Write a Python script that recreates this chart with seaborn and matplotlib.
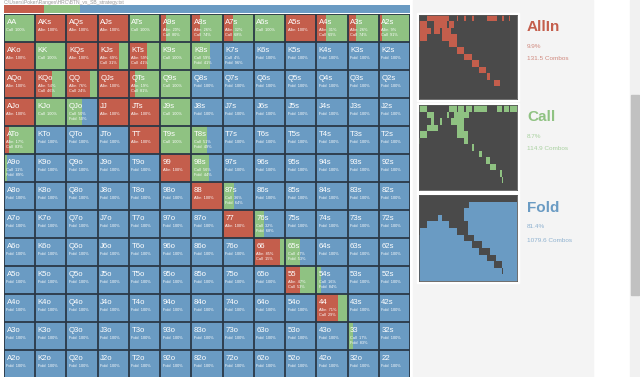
import matplotlib.pyplot as plt
import matplotlib.patches as mpatches
import numpy as np
import seaborn as sns

# hand grid: row i / column j, pairs on the diagonal, suited above, offsuit below
ranks = ["A", "K", "Q", "J", "T", "9", "8", "7", "6", "5", "4", "3", "2"]

allin_pct = [
    [0, 100, 100, 100, 0, 20, 26, 32, 0, 100, 31, 26, 9],
    [100, 0, 100, 69, 59, 0, 0, 0, 0, 0, 0, 0, 0],
    [100, 54, 76, 100, 19, 0, 0, 0, 0, 0, 0, 0, 0],
    [100, 0, 0, 100, 100, 0, 0, 0, 0, 0, 0, 0, 0],
    [17, 0, 0, 0, 100, 0, 0, 0, 0, 0, 0, 0, 0],
    [0, 0, 0, 0, 0, 100, 0, 0, 0, 0, 0, 0, 0],
    [0, 0, 0, 0, 0, 0, 100, 0, 0, 0, 0, 0, 0],
    [0, 0, 0, 0, 0, 0, 0, 100, 0, 0, 0, 0, 0],
    [0, 0, 0, 0, 0, 0, 0, 0, 85, 0, 0, 0, 0],
    [0, 0, 0, 0, 0, 0, 0, 0, 0, 47, 0, 0, 0],
    [0, 0, 0, 0, 0, 0, 0, 0, 0, 0, 71, 0, 0],
    [0, 0, 0, 0, 0, 0, 0, 0, 0, 0, 0, 0, 0],
    [0, 0, 0, 0, 0, 0, 0, 0, 0, 0, 0, 0, 0],
]

call_pct = [
    [100, 0, 0, 0, 100, 80, 74, 68, 100, 0, 69, 74, 91],
    [0, 100, 0, 31, 41, 100, 59, 4, 0, 0, 0, 0, 0],
    [0, 46, 24, 0, 81, 100, 0, 0, 0, 0, 0, 0, 0],
    [0, 100, 50, 0, 0, 100, 0, 0, 0, 0, 0, 0, 0],
    [83, 0, 0, 0, 0, 100, 51, 0, 0, 0, 0, 0, 0],
    [11, 0, 0, 0, 0, 0, 56, 0, 0, 0, 0, 0, 0],
    [0, 0, 0, 0, 0, 0, 0, 36, 0, 0, 0, 0, 0],
    [0, 0, 0, 0, 0, 0, 0, 0, 32, 0, 0, 0, 0],
    [0, 0, 0, 0, 0, 0, 0, 0, 15, 47, 0, 0, 0],
    [0, 0, 0, 0, 0, 0, 0, 0, 0, 53, 16, 0, 0],
    [0, 0, 0, 0, 0, 0, 0, 0, 0, 0, 29, 0, 0],
    [0, 0, 0, 0, 0, 0, 0, 0, 0, 0, 0, 17, 0],
    [0, 0, 0, 0, 0, 0, 0, 0, 0, 0, 0, 0, 0],
]

action_names = ["Allin", "Call", "Fold"]
panel_titles = ["AllIn", "Call", "Fold"]
summary_pct = [9.9, 8.7, 81.4]
summary_combos = [131.5, 114.9, 1079.6]

RED, GREEN, BLUE = "#c45e4c", "#8fc282", "#6a9bc3"
LIGHT = ["#d08a7f", "#a9d1a0", "#8fb2d0"]
GRID = "#2a3846"
DARK = "#4a4a4a"

sns.set_style("white")
plt.rcParams["font.family"] = ["Liberation Sans", "DejaVu Sans"]

W, H = 640, 377
fig = plt.figure(figsize=(W / 100, H / 100), dpi=100)


def px(x0, y0, x1, y1):
    return [x0 / W, 1 - y1 / H, (x1 - x0) / W, (y1 - y0) / H]


# page background pieces
fig.patches.append(mpatches.Rectangle((413 / W, 0), 180 / W, 1, transform=fig.transFigure,
                                      color="#f4f4f4", zorder=-5))
fig.patches.append(mpatches.Rectangle((630 / W, 0), 10 / W, 1, transform=fig.transFigure,
                                      color="#f1f1f1", zorder=-5))
fig.patches.append(mpatches.Rectangle((631 / W, 1 - 295 / H), 8 / W, 200 / H,
                                      transform=fig.transFigure, color="#c1c1c1", zorder=-4))
fig.text(4 / W, 1 - 2.3 / H, r"C:\Users\Poker\Ranges\HRC\BTN_vs_SB_strategy.txt",
         fontsize=3.6, color="#9a9a9a", va="center", ha="left")

fracs = [np.array(allin_pct) / 100, np.array(call_pct) / 100]
fracs.append(1 - fracs[0] - fracs[1])
colors = [RED, GREEN, BLUE]
rr, cc = np.indices((13, 13))


def draw_stack(ax, only=None):
    lefts = cc.astype(float).ravel()
    for k, (f, col) in enumerate(zip(fracs, colors)):
        if only is None or only == k:
            ax.barh(rr.ravel() + 0.5, f.ravel(), left=lefts, height=1.0,
                    color=col, linewidth=0)
        lefts = lefts + f.ravel()
    ax.set_xlim(0, 13)
    ax.set_ylim(13, 0)
    ax.set_xticks([])
    ax.set_yticks([])


# summary bar
axs = fig.add_axes(px(4, 5, 410, 13))
left = 0
for v, col in zip(summary_pct, colors):
    axs.barh(0, v, left=left, height=1, color=col, linewidth=0)
    left += v
axs.set_xlim(0, 100)
axs.set_ylim(-0.5, 0.5)
axs.axis("off")

# main grid
ax = fig.add_axes(px(4, 14, 410, 378))
draw_stack(ax)
ax.hlines(range(14), 0, 13, color=GRID, lw=1.3)
ax.vlines(range(14), 0, 13, color=GRID, lw=1.3)
for s in ax.spines.values():
    s.set_visible(False)

for i in range(13):
    for j in range(13):
        if i == j:
            name = ranks[i] * 2
        elif j > i:
            name = ranks[i] + ranks[j] + "s"
        else:
            name = ranks[j] + ranks[i] + "o"
        ax.text(j + 0.08, i + 0.3, name, color="white", fontsize=5.6,
                va="center", ha="left")
        lines = [f"{action_names[k]}  {round(fracs[k][i, j] * 100)}%"
                 for k in range(3) if fracs[k][i, j] > 0.001]
        for n, line in enumerate(lines):
            ax.text(j + 0.08, i + 0.56 + n * 0.2, line, color="white",
                    fontsize=2.8, va="center", ha="left")

# mini charts on the right
mini_y = [(15, 99), (105, 190), (195, 281)]
title_y = [27, 117, 208]
for k, (y0, y1) in enumerate(mini_y):
    fig.patches.append(mpatches.Rectangle((417 / W, 1 - (y1 + 2) / H), 102 / W,
                                          (y1 - y0 + 4) / H, transform=fig.transFigure,
                                          color="white", zorder=-3))
    m = fig.add_axes(px(419, y0, 517, y1))
    m.set_facecolor(DARK)
    draw_stack(m, only=k)
    for s in m.spines.values():
        s.set_color("#555555")
        s.set_linewidth(0.6)
    fig.text(527 / W, 1 - title_y[k] / H, panel_titles[k], fontsize=11, fontweight="bold",
             color=colors[k], va="center", ha="left")
    fig.text(527 / W, 1 - (title_y[k] + 19) / H, f"{summary_pct[k]}%", fontsize=4.6,
             color=LIGHT[k], va="center", ha="left")
    fig.text(527 / W, 1 - (title_y[k] + 32) / H, f"{summary_combos[k]} Combos", fontsize=4.6,
             color=LIGHT[k], va="center", ha="left")

fig.savefig("out.png", dpi=100)
